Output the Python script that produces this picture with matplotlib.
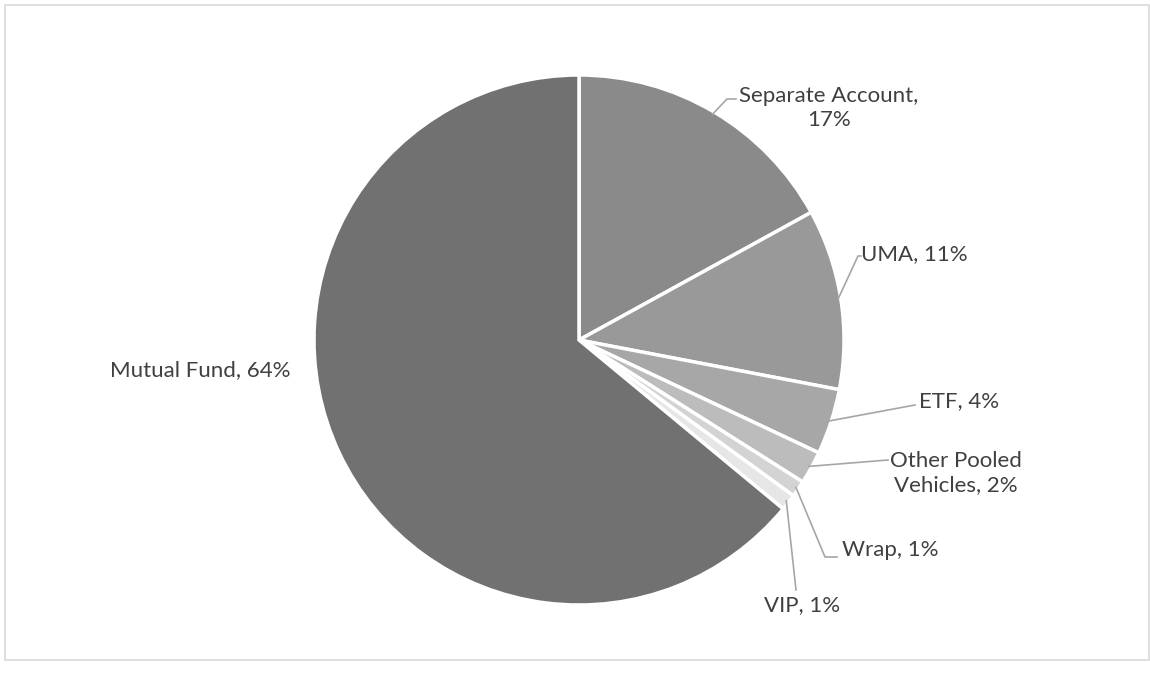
import numpy as np
import matplotlib
matplotlib.use("Agg")
import matplotlib.pyplot as plt
from matplotlib.patches import Rectangle

# Share of assets by vehicle type
categories = ["Separate Account", "UMA", "ETF", "Other Pooled\nVehicles", "Wrap", "VIP", "Mutual Fund"]
shares = [17, 11, 4, 2, 1, 1, 64]
colors = ["#8a8a8a", "#999999", "#a7a7a7", "#bcbcbc", "#d3d3d3", "#e6e6e6", "#717171"]

W, H = 1150, 674
fig = plt.figure(figsize=(W / 100, H / 100), dpi=100)
ax = fig.add_axes([0, 0, 1, 1])

cx, cy, R = 579, H - 340, 265
wedges, _ = ax.pie(shares, colors=colors, startangle=90, counterclock=False,
                   center=(cx, cy), radius=R, frame=True,
                   wedgeprops=dict(edgecolor="white", linewidth=2.5))
ax.set_xlim(0, W)
ax.set_ylim(0, H)
ax.set_aspect("equal")
ax.axis("off")

# outer chart frame
ax.add_patch(Rectangle((5, H - 660), W - 6, 655, fill=False, edgecolor="#d9d9d9", lw=1.2))

text_kw = dict(fontsize=16, color="#404040", family="Lato")
line_kw = dict(color="#a6a6a6", lw=1.2)


def edge_point(w, frac=1.0):
    ang = np.deg2rad((w.theta1 + w.theta2) / 2)
    return cx + R * frac * np.cos(ang), cy + R * frac * np.sin(ang)


def label(idx, text, tx, ty, path, ha="left", va="center"):
    # positions below are given from the top edge of the figure
    x0, y0 = edge_point(wedges[idx], 0.99)
    xs = [x0] + [p[0] for p in path]
    ys = [y0] + [H - p[1] for p in path]
    ax.plot(xs, ys, **line_kw)
    ax.text(tx, H - ty, text, ha=ha, va=va, multialignment="center", linespacing=1.3, **text_kw)


label(0, f"{categories[0]},\n{shares[0]}%", 829, 108, [(727, 99), (736, 99)], ha="center")
label(1, f"{categories[1]}, {shares[1]}%", 861, 254, [(858, 256), (861, 256)])
label(2, f"{categories[2]}, {shares[2]}%", 919, 401, [(915, 405)])
label(3, f"{categories[3]}, {shares[3]}%", 956, 473, [(888, 460)], ha="center")
label(4, f"{categories[4]}, {shares[4]}%", 842, 550, [(825, 557), (837, 557)])
label(5, f"{categories[5]}, {shares[5]}%", 802, 605, [(796, 590)], ha="center")
ax.text(290, H - 370, f"{categories[6]}, {shares[6]}%", ha="right", va="center", **text_kw)

fig.savefig("out.png", dpi=100, facecolor="white")
